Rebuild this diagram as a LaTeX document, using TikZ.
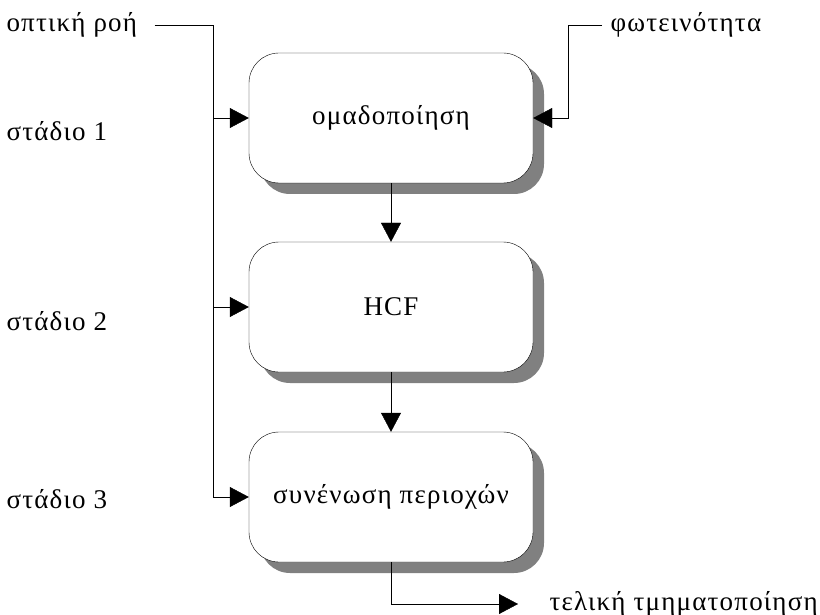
\documentclass[tikz,border=0pt]{standalone}
\usepackage{fontspec}
\setmainfont{Liberation Serif}[LetterSpace=4.5]
\usetikzlibrary{arrows.meta, positioning, shadows}
\definecolor{ombra}{RGB}{128,128,128}

\begin{document}
\begin{tikzpicture}[x=1pt, y=-1pt, font=\fontsize{27}{31}\selectfont,
	blocco/.style={draw, thin, rounded corners=30pt, minimum width=284pt, minimum height=130pt, fill=white,
		drop shadow={shadow xshift=11pt, shadow yshift=-11pt, fill=ombra, opacity=1}},
	freccia/.style={-{Triangle[length=19pt, width=20pt]}}]
	
	\useasboundingbox (0,0) rectangle (820,615);
	
	% Blocchi
	\node[blocco] (omad) at (391,118) {ομαδοποίηση};
	\node[blocco] (hcf) at (391,307) {HCF};
	\node[blocco] (sun) at (391,497) {συνένωση περιοχών};
	
	% Etichette a sinistra
	\node[anchor=west] (ottica) at (3,25) {οπτική ροή};
	\node[anchor=west] (stadio1) at (3,131) {στάδιο 1};
	\node[anchor=west] (stadio2) at (3,321) {στάδιο 2};
	\node[anchor=west] (stadio3) at (3,499) {στάδιο 3};
	
	% Etichette a destra
	\node[anchor=west] (luce) at (607,25) {φωτεινότητα};
	\node[anchor=west] (finale) at (546,604) {τελική τμηματοποίηση};
	
	% Linea verticale a sinistra
	\coordinate (dorsale) at (213,0);
	\draw[shorten <=14pt] (ottica.east) -| (dorsale |- sun.west);
	\draw[freccia] (dorsale |- omad.west) -- (omad.west);
	\draw[freccia] (dorsale |- hcf.west) -- (hcf.west);
	\draw[freccia] (dorsale |- sun.west) -- (sun.west);
	
	% Ingresso a destra
	\coordinate (gomito) at (568,0);
	\draw[freccia, shorten <=5pt] (luce.west) -| (gomito |- omad.east) -- (omad.east);
	
	% Frecce tra i blocchi
	\draw[freccia] (omad) -- (hcf);
	\draw[freccia] (hcf) -- (sun);
	
	% Uscita
	\draw[freccia, shorten >=28pt] (sun.south) |- (finale.west);
	
\end{tikzpicture}
\end{document}
